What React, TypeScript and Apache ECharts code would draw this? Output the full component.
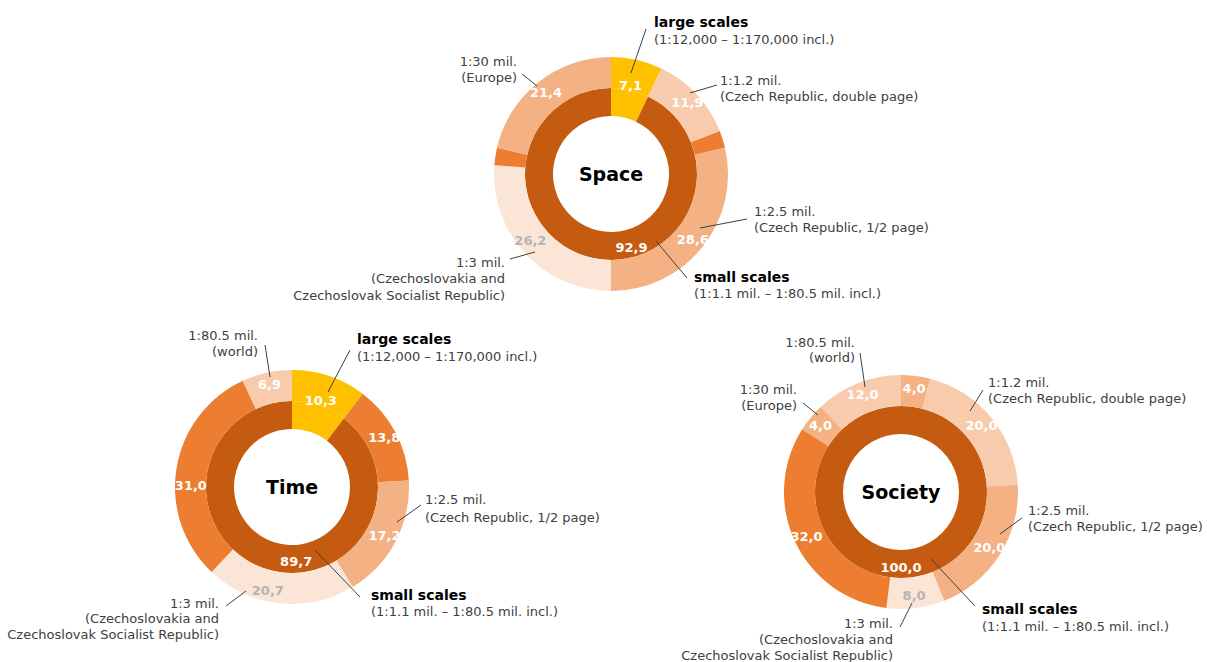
import React, { useEffect, useRef } from "react";
import * as echarts from "echarts";

// ---- data ----
const C_YELLOW = "#ffc000";
const C_DARK = "#c55a11";
const C_ORANGE = "#ed7d31";
const C_LORANGE = "#f4b183";
const C_PEACH = "#f8cbad";
const C_VLIGHT = "#fbe5d6";

const spaceInner = [7.1, 92.9];
const spaceInnerColors = [C_YELLOW, C_DARK];
const spaceOuter = [7.1, 11.9, 2.4, 28.6, 26.2, 2.4, 21.4];
const spaceOuterColors = [C_YELLOW, C_PEACH, C_ORANGE, C_LORANGE, C_VLIGHT, C_ORANGE, C_LORANGE];

const timeInner = [10.3, 89.7];
const timeInnerColors = [C_YELLOW, C_DARK];
const timeOuter = [10.3, 13.8, 17.2, 20.7, 31.0, 6.9];
const timeOuterColors = [C_YELLOW, C_ORANGE, C_LORANGE, C_VLIGHT, C_ORANGE, C_PEACH];

const societyInner = [100.0];
const societyInnerColors = [C_DARK];
const societyOuter = [4.0, 20.0, 20.0, 8.0, 32.0, 4.0, 12.0];
const societyOuterColors = [C_LORANGE, C_PEACH, C_LORANGE, C_VLIGHT, C_ORANGE, C_LORANGE, C_PEACH];

const titles = ["Space", "Time", "Society"];

// ---- layout ----
const FONT = "'DejaVu Sans', Verdana, sans-serif";
const centers: [number, number][] = [
  [611, 174],
  [292, 487],
  [901, 492],
];
const R_IN: [number, number] = [58, 86];
const R_OUT: [number, number] = [86, 117];

type Ann = { lines: string[]; x: number; ys: number[]; align: "left" | "right"; bold?: boolean; line: number[] };
const annotations: Ann[] = [
  // Space
  { lines: ["large scales", "(1:12,000 \u2013 1:170,000 incl.)"], x: 654, ys: [22, 39], align: "left", bold: true, line: [631, 73, 646, 29] },
  { lines: ["1:30 mil.", "(Europe)"], x: 517, ys: [61, 77], align: "right", line: [522, 74, 537, 86] },
  { lines: ["1:1.2 mil.", "(Czech Republic, double page)"], x: 720, ys: [80, 96], align: "left", line: [690, 93, 717, 85] },
  { lines: ["1:2.5 mil.", "(Czech Republic, 1/2 page)"], x: 754, ys: [211, 227], align: "left", line: [700, 228, 747, 219] },
  { lines: ["1:3 mil.", "(Czechoslovakia and", "Czechoslovak Socialist Republic)"], x: 505, ys: [262, 278, 295], align: "right", line: [510, 259, 535, 252] },
  { lines: ["small scales", "(1:1.1 mil. \u2013 1:80.5 mil. incl.)"], x: 694, ys: [277, 293], align: "left", bold: true, line: [656, 241, 687, 278] },
  // Time
  { lines: ["1:80.5 mil.", "(world)"], x: 258, ys: [335, 351], align: "right", line: [265, 345, 270, 377] },
  { lines: ["large scales", "(1:12,000 \u2013 1:170,000 incl.)"], x: 357, ys: [339, 356], align: "left", bold: true, line: [328, 392, 350, 350] },
  { lines: ["1:2.5 mil.", "(Czech Republic, 1/2 page)"], x: 425, ys: [499, 517], align: "left", line: [397, 522, 421, 505] },
  { lines: ["1:3 mil.", "(Czechoslovakia and", "Czechoslovak Socialist Republic)"], x: 219, ys: [603, 618, 634], align: "right", line: [226, 606, 246, 591] },
  { lines: ["small scales", "(1:1.1 mil. \u2013 1:80.5 mil. incl.)"], x: 371, ys: [595, 611], align: "left", bold: true, line: [315, 550, 360, 597] },
  // Society
  { lines: ["1:80.5 mil.", "(world)"], x: 855, ys: [342, 357], align: "right", line: [860, 353, 865, 387] },
  { lines: ["1:30 mil.", "(Europe)"], x: 797, ys: [389, 405], align: "right", line: [803, 403, 818, 415] },
  { lines: ["1:1.2 mil.", "(Czech Republic, double page)"], x: 988, ys: [382, 398], align: "left", line: [983, 390, 970, 411] },
  { lines: ["1:2.5 mil.", "(Czech Republic, 1/2 page)"], x: 1028, ys: [510, 526], align: "left", line: [1022, 518, 1000, 534] },
  { lines: ["1:3 mil.", "(Czechoslovakia and", "Czechoslovak Socialist Republic)"], x: 893, ys: [623, 639, 655], align: "right", line: [900, 627, 912, 603] },
  { lines: ["small scales", "(1:1.1 mil. \u2013 1:80.5 mil. incl.)"], x: 982, ys: [609, 626], align: "left", bold: true, line: [931, 559, 975, 606] },
];

const fmt = (v: number) => v.toFixed(1).replace(".", ",");
const GREY_LABEL = "#b4b4b4";

function labelColor(c: string) {
  return c === C_VLIGHT ? GREY_LABEL : "#ffffff";
}

function makePie(
  values: number[],
  colors: string[],
  center: [number, number],
  radius: [number, number],
  hideIdx: number[],
  shifts: Record<number, { dx: number; dy: number }>
) {
  return {
    type: "pie",
    center,
    radius,
    startAngle: 90,
    clockwise: true,
    silent: true,
    avoidLabelOverlap: false,
    emphasis: { disabled: true },
    labelLine: { show: false },
    data: values.map((v, i) => ({
      value: v,
      itemStyle: { color: colors[i], borderWidth: 0 },
      label: {
        show: !hideIdx.includes(i),
        position: "inside",
        formatter: fmt(v),
        color: labelColor(colors[i]),
        fontFamily: FONT,
        fontWeight: "bold",
        fontSize: 13,
        overflow: "none",
      },
    })),
    labelLayout: (p: any) => {
      const s = shifts[p.dataIndex] || { dx: 0, dy: 0 };
      return { dx: s.dx, dy: s.dy, width: 70 };
    },
  };
}

export default function App() {
  const ref = useRef<HTMLDivElement>(null);
  useEffect(() => {
    if (!ref.current) return;
    const chart = echarts.init(ref.current, null, { renderer: "svg" });

    const series: any[] = [
      makePie(spaceInner, spaceInnerColors, centers[0], R_IN, [], { 0: { dx: 3, dy: -15 }, 1: { dx: 37, dy: 0 } }),
      makePie(spaceOuter, spaceOuterColors, centers[0], R_OUT, [0, 2, 5], { 4: { dx: -4, dy: -5 } }),
      makePie(timeInner, timeInnerColors, centers[1], R_IN, [], { 0: { dx: 5, dy: -15 }, 1: { dx: 28, dy: 3 } }),
      makePie(timeOuter, timeOuterColors, centers[1], R_OUT, [0], { 3: { dx: -13, dy: 0 }, 4: { dx: 2, dy: 15 } }),
      makePie(societyInner, societyInnerColors, centers[2], R_IN, [], {}),
      makePie(societyOuter, societyOuterColors, centers[2], R_OUT, [], {}),
    ];

    const graphics: any[] = [];
    titles.forEach((t, i) => {
      graphics.push({
        type: "text",
        x: centers[i][0],
        y: centers[i][1],
        silent: true,
        z: 10,
        style: {
          text: t,
          fill: "#000000",
          font: `bold 19px ${FONT}`,
          align: "center",
          verticalAlign: "middle",
        },
      });
    });
    annotations.forEach((a) => {
      graphics.push({
        type: "line",
        silent: true,
        z: 10,
        shape: { x1: a.line[0], y1: a.line[1], x2: a.line[2], y2: a.line[3] },
        style: { stroke: "#404040", lineWidth: 1 },
      });
      a.lines.forEach((ln, j) => {
        const bold = a.bold && j === 0;
        graphics.push({
          type: "text",
          x: a.x,
          y: a.ys[j],
          silent: true,
          z: 10,
          style: {
            text: ln,
            fill: bold ? "#000000" : "#404040",
            font: bold ? `bold 14px ${FONT}` : `13px ${FONT}`,
            align: a.align,
            verticalAlign: "middle",
          },
        });
      });
    });

    chart.setOption({
      animation: false,
      backgroundColor: "#ffffff",
      series,
      graphic: { elements: graphics },
    });
    return () => chart.dispose();
  }, []);
  return (
    <div
      ref={ref}
      style={{ position: "fixed", left: 0, top: 0, width: 1207, height: 662 }}
    />
  );
}
